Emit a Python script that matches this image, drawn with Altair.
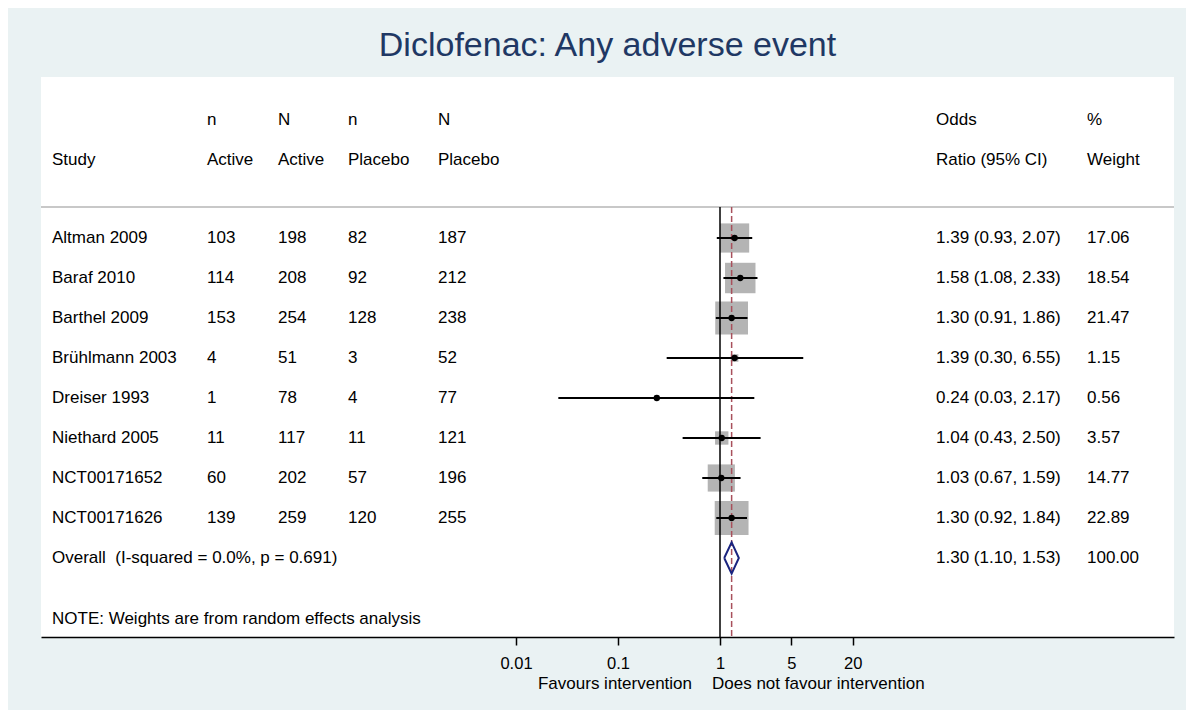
import altair as alt
import pandas as pd

# ---------------- data ----------------
studies = ["Altman 2009", "Baraf 2010", "Barthel 2009", "Brühlmann 2003",
           "Dreiser 1993", "Niethard 2005", "NCT00171652", "NCT00171626"]
n_active = [103, 114, 153, 4, 1, 11, 60, 139]
N_active = [198, 208, 254, 51, 78, 117, 202, 259]
n_placebo = [82, 92, 128, 3, 4, 11, 57, 120]
N_placebo = [187, 212, 238, 52, 77, 121, 196, 255]
odds_ratio = [1.39, 1.58, 1.30, 1.39, 0.24, 1.04, 1.03, 1.30]
ci_low = [0.93, 1.08, 0.91, 0.30, 0.026, 0.43, 0.67, 0.92]
ci_high = [2.07, 2.33, 1.86, 6.55, 2.17, 2.50, 1.59, 1.84]
weight = [17.06, 18.54, 21.47, 1.15, 0.56, 3.57, 14.77, 22.89]

overall_or = 1.30
overall_low = 1.10
overall_high = 1.53
overall_weight = 100.00
i_squared = 0.0
p_het = 0.691

header_top = ["", "n", "N", "n", "N", "Odds", "%"]
header_bottom = ["Study", "Active", "Active", "Placebo", "Placebo", "Ratio (95% CI)", "Weight"]
note_text = "NOTE: Weights are from random effects analysis"
title_text = "Diclofenac: Any adverse event"
x_ticks = [0.01, 0.1, 1, 5, 20]
favour_left = "Favours intervention"
favour_right = "Does not favour intervention"

# ---------------- layout ----------------
FONT = "Liberation Sans"
FS = 17
W, H = 1133, 560
Y_MIN, Y_MAX = -3.025, 10.975
ROW_HEAD1, ROW_HEAD2, ROW_SEP = -1.95, -0.95, 0.225
ROW_OVERALL = len(studies) + 1
ROW_NOTE = 10.525
col_keys = ["study", "na", "Na", "np", "Np", "orci", "wt"]
col_x = {"study": 11, "na": 166, "Na": 237, "np": 307, "Np": 397, "orci": 895, "wt": 1046}

rows = list(range(1, len(studies) + 1))
forest = pd.DataFrame({
    "row": rows, "study": studies, "est": odds_ratio, "lo": ci_low,
    "hi": ci_high, "wgt": weight,
})

cells = {k: [] for k in col_keys}
for k, (a, b) in enumerate(zip(header_top, header_bottom)):
    if a:
        cells[col_keys[k]].append({"row": ROW_HEAD1, "label": a})
    cells[col_keys[k]].append({"row": ROW_HEAD2, "label": b})
for i, r in enumerate(rows):
    vals = [studies[i], str(n_active[i]), str(N_active[i]), str(n_placebo[i]),
            str(N_placebo[i]),
            f"{odds_ratio[i]:.2f} ({ci_low[i]:.2f}, {ci_high[i]:.2f})",
            f"{weight[i]:.2f}"]
    for k, v in enumerate(vals):
        cells[col_keys[k]].append({"row": r, "label": v})
cells["study"].append({"row": ROW_OVERALL,
                       "label": f"Overall\u00a0 (I-squared = {i_squared:.1f}%, p = {p_het:.3f})"})
cells["orci"].append({"row": ROW_OVERALL,
                      "label": f"{overall_or:.2f} ({overall_low:.2f}, {overall_high:.2f})"})
cells["wt"].append({"row": ROW_OVERALL, "label": f"{overall_weight:.2f}"})
cells["study"].append({"row": ROW_NOTE, "label": note_text})

half = 0.39
diamond = pd.DataFrame({
    "dx": [overall_low, overall_or, overall_high, overall_or, overall_low],
    "row": [ROW_OVERALL, ROW_OVERALL - half, ROW_OVERALL, ROW_OVERALL + half, ROW_OVERALL],
    "ord": [0, 1, 2, 3, 4],
})

X_DOM = [2.203e-7, 28249]
xscale = alt.Scale(type="log", domain=X_DOM, nice=False)
yscale = alt.Scale(domain=[Y_MIN, Y_MAX], reverse=True, nice=False, zero=False)

xaxis = alt.Axis(values=x_ticks, format="~g", title=None, grid=False,
                 domainColor="black", domainWidth=1.5, tickColor="black",
                 tickWidth=1.5, tickSize=8, labelFont=FONT, labelFontSize=16.5,
                 labelColor="black", labelPadding=10, labelFlush=False)


def X(field):
    return alt.X(field, scale=xscale, axis=xaxis)


def Y(field):
    return alt.Y(field, scale=yscale, axis=None)


base = alt.Chart(forest)

squares = base.mark_square(color="#B4B4B4", opacity=1).encode(
    x=X("est:Q"), y=Y("row:Q"),
    size=alt.Size("wgt:Q", scale=alt.Scale(domain=[0, 100], range=[0, 5000]),
                  legend=None),
)

sep = alt.Chart(pd.DataFrame({"a": [X_DOM[0]], "b": [X_DOM[1]], "row": [ROW_SEP]})).mark_rule(
    color="#C8C8C8", strokeWidth=2).encode(x=X("a:Q"), x2="b:Q", y=Y("row:Q"))

null_line = alt.Chart(pd.DataFrame({"a": [1], "row": [ROW_SEP], "row2": [Y_MAX]})).mark_rule(
    color="black", strokeWidth=1.5).encode(x=X("a:Q"), y=Y("row:Q"), y2="row2:Q")

overall_line = alt.Chart(pd.DataFrame({"a": [overall_or], "row": [ROW_SEP], "row2": [Y_MAX]})).mark_rule(
    color="#A8505C", strokeWidth=1.5, strokeDash=[6, 3]).encode(
    x=X("a:Q"), y=Y("row:Q"), y2="row2:Q")

ci = base.mark_rule(color="black", strokeWidth=2).encode(
    x=X("lo:Q"), x2="hi:Q", y=Y("row:Q"))

points = base.mark_circle(color="black", opacity=1, size=40).encode(
    x=X("est:Q"), y=Y("row:Q"))

dia = alt.Chart(diamond).mark_line(color="#1A247F", strokeWidth=2).encode(
    x=X("dx:Q"), y=Y("row:Q"), order="ord:Q")

text_layers = []
for key in col_keys:
    text_layers.append(
        alt.Chart(pd.DataFrame(cells[key])).mark_text(
            align="left", baseline="middle", font=FONT, fontSize=FS, color="black",
            dx=col_x[key]
        ).encode(x=alt.value(0), y=Y("row:Q"), text="label:N")
    )

fav_l = alt.Chart(pd.DataFrame({"a": [1], "label": [favour_left]})).mark_text(
    align="right", baseline="alphabetic", font=FONT, fontSize=FS, color="black",
    dx=-28).encode(x=X("a:Q"), y=alt.value(612), text="label:N")
fav_r = alt.Chart(pd.DataFrame({"a": [1], "label": [favour_right]})).mark_text(
    align="left", baseline="alphabetic", font=FONT, fontSize=FS, color="black",
    dx=-8).encode(x=X("a:Q"), y=alt.value(612), text="label:N")

chart = alt.layer(
    squares, sep, null_line, overall_line, ci, points, dia, *text_layers, fav_l, fav_r
).properties(
    width=W, height=H,
    background="#EAF2F3",
    padding={"left": 33, "top": 69, "right": 12, "bottom": 73},
    autosize=alt.AutoSizeParams(type="none"),
    title=alt.TitleParams(title_text, font=FONT, fontSize=34, fontWeight="normal",
                          color="#1F3864", anchor="middle", offset=14),
).configure_view(fill="white", strokeWidth=0)

chart.save("out.html", embed_options={"renderer": "svg", "actions": False})
